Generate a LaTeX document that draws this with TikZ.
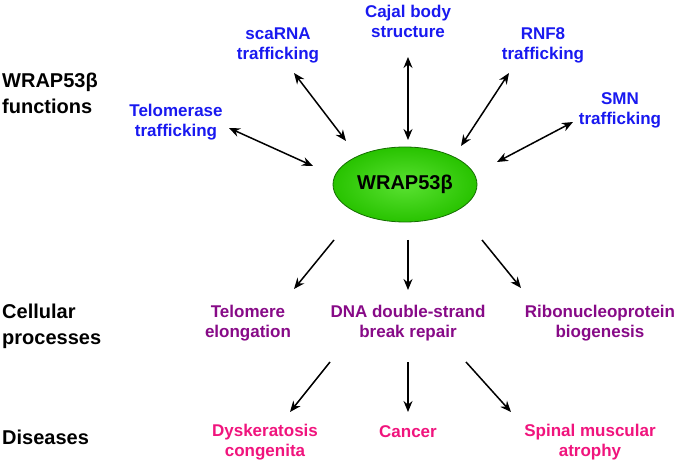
\documentclass[tikz,border=0pt]{standalone}
\usepackage{fontspec}
\setmainfont{Liberation Sans}
\usetikzlibrary{arrows.meta}
\definecolor{fblue}{RGB}{25,25,240}
\definecolor{fpurple}{RGB}{135,10,135}
\definecolor{fpink}{RGB}{240,20,125}
\definecolor{glight}{RGB}{90,225,50}
\definecolor{gmid}{RGB}{40,195,0}
\definecolor{gdark}{RGB}{20,110,0}
\tikzset{
  lefttext/.style={anchor=west,align=left,inner sep=0pt,font=\fontsize{20}{26}\selectfont\bfseries},
  funtext/.style={align=center,inner sep=0pt,text=fblue,font=\fontsize{17}{20}\selectfont\bfseries},
  proctext/.style={align=center,inner sep=0pt,text=fpurple,font=\fontsize{17}{20}\selectfont\bfseries},
  distext/.style={align=center,inner sep=0pt,text=fpink,font=\fontsize{17}{20}\selectfont\bfseries},
  dbl/.style={line width=1.5pt,{Stealth[length=11pt,width=9pt]}-{Stealth[length=11pt,width=9pt]}},
  sgl/.style={line width=1.5pt,-{Stealth[length=11pt,width=9pt]}},
}
\begin{document}
\begin{tikzpicture}[x=1pt,y=-1pt]
\useasboundingbox (0,0) rectangle (680,465);
% left headings
\node[lefttext] (hfun) at (2,93) {WRAP53β\\functions};
\node[lefttext] (hproc) at (2,326) {Cellular\\processes};
\node[lefttext] (hdis) at (2,437) {Diseases};
% central ellipse
\shade[inner color=glight,outer color=gmid,draw=gdark,line width=0.8pt] (405,184.5) ellipse (72 and 37.5);
\node[inner sep=0pt,font=\fontsize{20}{24}\selectfont\bfseries] (w) at (405,184.5) {WRAP53β};
% function labels
\node[funtext] (telt) at (176,122) {Telomerase\\trafficking};
\node[funtext] (sca) at (278,45) {scaRNA\\trafficking};
\node[funtext] (caj) at (408,21) {Cajal body\\structure};
\node[funtext] (rnf) at (543,45) {RNF8\\trafficking};
\node[funtext] (smn) at (620,110) {SMN\\trafficking};
% process labels
\node[proctext] (tel) at (248,323) {Telomere\\elongation};
\node[proctext] (dna) at (408,323) {DNA double-strand\\break repair};
\node[proctext] (rnp) at (600,323) {Ribonucleoprotein\\biogenesis};
% disease labels
\node[distext] (dys) at (265,442) {Dyskeratosis\\congenita};
\node[distext] (can) at (408,432) {Cancer};
\node[distext] (sma) at (590,442) {Spinal muscular\\atrophy};
% arrow endpoints
\coordinate (a1s) at (229,128); \coordinate (a1e) at (313,166);
\coordinate (a2s) at (294,73);  \coordinate (a2e) at (346,141);
\coordinate (a3s) at (408,57);  \coordinate (a3e) at (408,140);
\coordinate (a4s) at (509,73);  \coordinate (a4e) at (461,146);
\coordinate (a5s) at (573,122); \coordinate (a5e) at (497,162);
\coordinate (b1s) at (334,240); \coordinate (b1e) at (294,289);
\coordinate (b2s) at (408,240); \coordinate (b2e) at (408,290);
\coordinate (b3s) at (482,240); \coordinate (b3e) at (521,288);
\coordinate (c1s) at (330,362); \coordinate (c1e) at (290,412);
\coordinate (c2s) at (408,362); \coordinate (c2e) at (408,412);
\coordinate (c3s) at (466,362); \coordinate (c3e) at (511,412);
\draw[dbl] (a1s) -- (a1e);
\draw[dbl] (a2s) -- (a2e);
\draw[dbl] (a3s) -- (a3e);
\draw[dbl] (a4s) -- (a4e);
\draw[dbl] (a5s) -- (a5e);
\draw[sgl] (b1s) -- (b1e);
\draw[sgl] (b2s) -- (b2e);
\draw[sgl] (b3s) -- (b3e);
\draw[sgl] (c1s) -- (c1e);
\draw[sgl] (c2s) -- (c2e);
\draw[sgl] (c3s) -- (c3e);
\end{tikzpicture}
\end{document}
